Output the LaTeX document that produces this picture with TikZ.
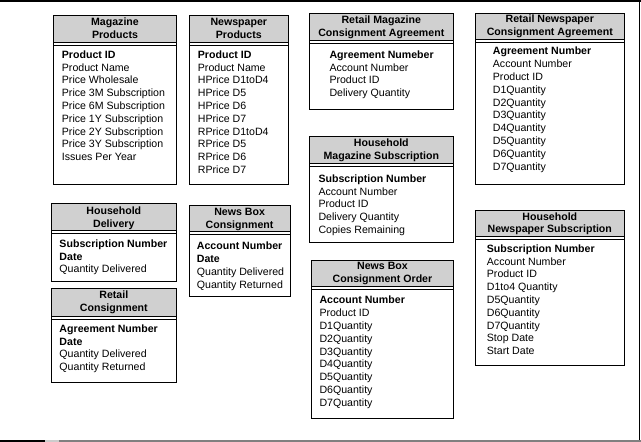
\documentclass[tikz,border=0pt]{standalone}
\usepackage{fontspec}
\setmainfont{Liberation Sans}
\usepackage{tikz}

\definecolor{hdrgray}{RGB}{208,208,208}

\begin{document}
\begin{tikzpicture}[x=1pt,y=-1pt,
  box/.style={draw=black,line width=0.9pt},
  hdrbox/.style={draw=black,line width=0.9pt,fill=hdrgray},
  sep/.style={draw=black,line width=0.9pt},
  hdr/.style={font=\bfseries\fontsize{10.6}{12.6}\selectfont,align=center,inner sep=0pt},
  fld/.style={font=\fontsize{10.6}{12.8}\selectfont,align=left,anchor=north west,inner sep=0pt}]

  \useasboundingbox (0,0) rectangle (641,442);

  % page frame
  \draw[line width=1.2pt] (0,1) -- (641,1);
  \draw[line width=1.2pt] (639.5,1) -- (639.5,441);
  \draw[line width=1.4pt,gray] (59,441) -- (641,441);
  \draw[line width=1.4pt,gray!40] (45,441) -- (59,441);
  \draw[line width=1.4pt] (0,441) -- (45,441);

  % Magazine Products
  \draw[hdrbox] (53.3,15) rectangle (176.7,42);
  \draw[box] (53.3,15) rectangle (176.7,184.3);
  \draw[sep] (53.3,45) -- (176.7,45);
  \node[hdr] (magprodH) at (115,28.5) {Magazine\\Products};
  \node[fld] (magprodF) at (61.7,50.4) {\textbf{Product ID}\\Product Name\\Price Wholesale\\Price 3M Subscription\\Price 6M Subscription\\Price 1Y Subscription\\Price 2Y Subscription\\Price 3Y Subscription\\Issues Per Year};

  % Newspaper Products
  \draw[hdrbox] (189.3,15) rectangle (288.3,42);
  \draw[box] (189.3,15) rectangle (288.3,184.3);
  \draw[sep] (189.3,45) -- (288.3,45);
  \node[hdr] (newsprodH) at (238.8,28.5) {Newspaper\\Products};
  \node[fld] (newsprodF) at (197.7,50.4) {\textbf{Product ID}\\Product Name\\HPrice D1toD4\\HPrice D5\\HPrice D6\\HPrice D7\\RPrice D1toD4\\RPrice D5\\RPrice D6\\RPrice D7};

  % Retail Magazine Consignment Agreement
  \draw[hdrbox] (309.3,13.3) rectangle (453.3,40.7);
  \draw[box] (309.3,13.3) rectangle (453.3,109.3);
  \draw[sep] (309.3,43.7) -- (453.3,43.7);
  \node[hdr] (rmcaH) at (381.3,27.5) {Retail Magazine\\Consignment Agreement};
  \node[fld] (rmcaF) at (329.3,50.4) {\textbf{Agreement Numeber}\\Account Number\\Product ID\\Delivery Quantity};

  % Retail Newspaper Consignment Agreement
  \draw[hdrbox] (475.7,13.3) rectangle (624,39.3);
  \draw[box] (475.7,13.3) rectangle (624,184.3);
  \draw[sep] (475.7,42.3) -- (624,42.3);
  \node[hdr] (rncaH) at (549.8,26.5) {Retail Newspaper\\Consignment Agreement};
  \node[fld] (rncaF) at (492.7,47.1) {\textbf{Agreement Number}\\Account Number\\Product ID\\D1Quantity\\D2Quantity\\D3Quantity\\D4Quantity\\D5Quantity\\D6Quantity\\D7Quantity};

  % Household Magazine Subscription
  \draw[hdrbox] (309.3,136) rectangle (453.3,163.3);
  \draw[box] (309.3,136) rectangle (453.3,242.3);
  \draw[sep] (309.3,166.3) -- (453.3,166.3);
  \node[hdr] (hmsH) at (381.3,150.5) {Household\\Magazine Subscription};
  \node[fld] (hmsF) at (318.3,174.4) {\textbf{Subscription Number}\\Account Number\\Product ID\\Delivery Quantity\\Copies Remaining};

  % Household Delivery
  \draw[hdrbox] (51,203.3) rectangle (176.7,230.7);
  \draw[box] (51,203.3) rectangle (176.7,281);
  \draw[sep] (51,233.7) -- (176.7,233.7);
  \node[hdr] (hdelH) at (113.8,218.5) {Household\\Delivery};
  \node[fld] (hdelF) at (59.3,239.4) {\textbf{Subscription Number}\\\textbf{Date}\\Quantity Delivered};

  % Retail Consignment
  \draw[hdrbox] (51,288.3) rectangle (176.7,316);
  \draw[box] (51,288.3) rectangle (176.7,382.3);
  \draw[sep] (51,319) -- (176.7,319);
  \node[hdr] (rconH) at (113.8,302) {Retail\\Consignment};
  \node[fld] (rconF) at (59.3,324.4) {\textbf{Agreement Number}\\\textbf{Date}\\Quantity Delivered\\Quantity Returned};

  % News Box Consignment
  \draw[hdrbox] (189.3,205) rectangle (290,231.7);
  \draw[box] (189.3,205) rectangle (290,296.7);
  \draw[sep] (189.3,234.7) -- (290,234.7);
  \node[hdr] (nbcH) at (239.6,219.6) {News Box\\Consignment};
  \node[fld] (nbcF) at (196.7,242.1) {\textbf{Account Number}\\\textbf{Date}\\Quantity Delivered\\Quantity Returned};

  % News Box Consignment Order
  \draw[hdrbox] (311.7,260.7) rectangle (453.3,286.7);
  \draw[box] (311.7,260.7) rectangle (453.3,418.3);
  \draw[sep] (311.7,289.7) -- (453.3,289.7);
  \node[hdr] (nbcoH) at (382.5,273.3) {News Box\\Consignment Order};
  \node[fld] (nbcoF) at (319.3,296.1) {\textbf{Account Number}\\Product ID\\D1Quantity\\D2Quantity\\D3Quantity\\D4Quantity\\D5Quantity\\D6Quantity\\D7Quantity};

  % Household Newspaper Subscription
  \draw[hdrbox] (475.7,210.7) rectangle (624,236);
  \draw[box] (475.7,210.7) rectangle (624,365);
  \draw[sep] (475.7,239) -- (624,239);
  \node[hdr] (hnsH) at (549.8,223.6) {Household\\Newspaper Subscription};
  \node[fld] (hnsF) at (486.7,244.4) {\textbf{Subscription Number}\\Account Number\\Product ID\\D1to4 Quantity\\D5Quantity\\D6Quantity\\D7Quantity\\Stop Date\\Start Date};

\end{tikzpicture}
\end{document}
